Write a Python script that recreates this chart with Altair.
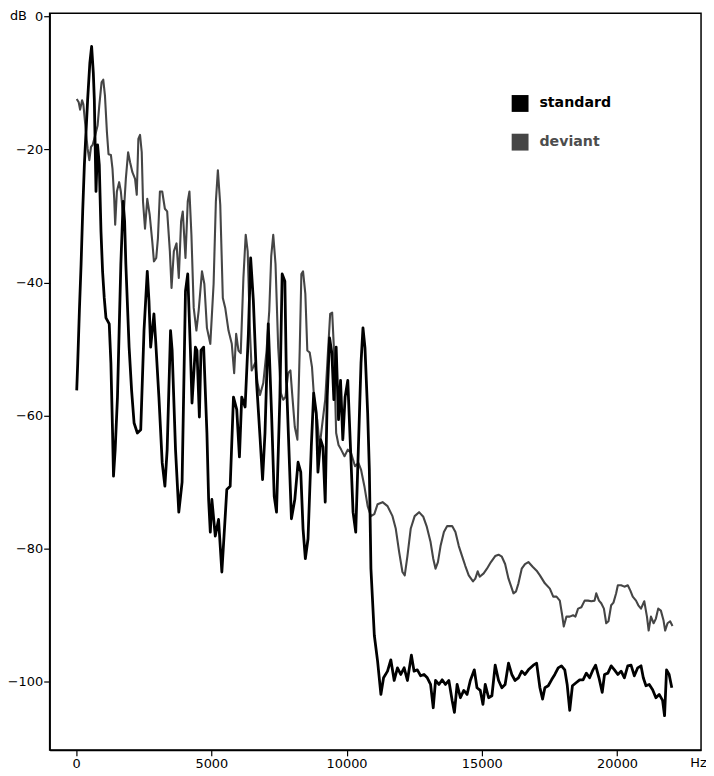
import altair as alt
import pandas as pd

# ---- data (frequency in Hz, level in dB) ----
std_hz = [22, 59, 121, 184, 243, 305, 426, 507, 573, 636,
          673, 735, 794, 856, 919, 978, 1040, 1103, 1224, 1286,
          1345, 1382, 1444, 1529, 1591, 1654, 1738, 1793, 1838, 1959,
          2051, 2143, 2264, 2389, 2510, 2631, 2694, 2756, 2877, 2940,
          3061, 3183, 3282, 3366, 3491, 3550, 3675, 3796, 3918, 4043,
          4127, 4226, 4285, 4410, 4469, 4557, 4616, 4715, 4836, 4899,
          4961, 5020, 5145, 5266, 5388, 5513, 5571, 5696, 5818, 5939,
          6038, 6123, 6248, 6369, 6453, 6553, 6674, 6799, 6894, 6983,
          7104, 7225, 7324, 7409, 7534, 7618, 7718, 7776, 7865, 7960,
          8085, 8206, 8306, 8390, 8475, 8574, 8695, 8783, 8879, 8941,
          9040, 9125, 9210, 9283, 9371, 9456, 9529, 9614, 9702, 9776,
          9860, 9945, 10044, 10143, 10239, 10338, 10437, 10533, 10606, 10680,
          10779, 10841, 10900, 11025, 11146, 11268, 11367, 11514, 11635, 11760,
          11881, 12003, 12128, 12249, 12396, 12495, 12616, 12738, 12863, 12984,
          13105, 13204, 13289, 13414, 13535, 13656, 13781, 13903, 13987, 14086,
          14208, 14333, 14454, 14575, 14722, 14821, 14943, 15042, 15126, 15251,
          15373, 15494, 15619, 15740, 15861, 15986, 16108, 16229, 16354, 16475,
          16596, 16721, 16905, 17026, 17148, 17247, 17331, 17456, 17578, 17699,
          17824, 17945, 18066, 18155, 18250, 18349, 18496, 18618, 18743, 18864,
          18985, 19110, 19206, 19331, 19452, 19536, 19661, 19783, 19904, 20029,
          20150, 20271, 20396, 20517, 20639, 20764, 20885, 20970, 21069, 21190,
          21315, 21436, 21558, 21683, 21756, 21830, 21925, 22024]
std_db = [-56.2, -52.1, -44.2, -37.2, -29.3, -22.3, -12.5, -7.0, -4.5, -8.5,
          -12.5, -26.3, -19.3, -22.3, -32.3, -38.3, -42.3, -45.3, -46.2, -52.1,
          -62.1, -69.1, -65.1, -57.2, -47.2, -37.2, -27.8, -30.8, -37.2, -49.7,
          -56.2, -61.1, -62.6, -62.1, -47.2, -38.3, -42.8, -49.7, -44.7, -48.7,
          -57.2, -67.1, -70.6, -65.1, -47.2, -50.2, -65.1, -74.5, -70.0, -41.3,
          -38.7, -50.2, -58.1, -49.7, -50.2, -60.2, -50.2, -49.7, -62.6, -72.6,
          -77.5, -72.6, -78.1, -75.6, -83.5, -75.1, -71.1, -70.6, -57.2, -59.1,
          -66.2, -57.2, -58.7, -47.7, -36.3, -42.7, -55.1, -63.2, -69.6, -62.6,
          -46.2, -59.6, -72.1, -74.5, -57.2, -38.7, -39.8, -54.7, -64.7, -75.5,
          -72.6, -67.0, -68.5, -77.0, -81.5, -78.5, -64.7, -56.6, -59.6, -68.5,
          -63.6, -64.7, -73.0, -57.2, -48.3, -50.6, -57.6, -49.7, -60.6, -54.7,
          -63.6, -57.2, -54.7, -64.7, -74.5, -77.5, -64.7, -52.1, -46.8, -49.8,
          -59.6, -68.1, -83.0, -93.0, -96.9, -101.9, -99.4, -98.4, -96.7, -99.8,
          -97.9, -98.9, -97.9, -99.8, -96.0, -98.4, -98.2, -99.1, -98.9, -99.4,
          -100.4, -103.9, -99.8, -100.4, -99.7, -100.4, -99.8, -102.8, -104.6, -100.4,
          -102.4, -101.3, -101.9, -99.8, -98.2, -100.9, -101.3, -103.4, -100.4, -102.4,
          -102.1, -97.5, -99.8, -100.9, -100.4, -97.2, -98.9, -99.8, -99.4, -98.4,
          -98.9, -98.2, -97.5, -97.2, -100.9, -102.6, -100.9, -100.6, -99.7, -98.9,
          -97.9, -97.6, -98.2, -100.4, -104.3, -100.6, -100.1, -99.7, -99.7, -98.7,
          -99.4, -98.2, -97.5, -99.4, -101.6, -98.9, -98.7, -97.6, -98.2, -98.9,
          -98.4, -99.4, -97.6, -97.5, -99.1, -97.9, -97.6, -99.4, -100.6, -100.4,
          -101.2, -102.4, -101.9, -102.8, -105.1, -98.2, -98.9, -100.9]

dev_hz = [22, 96, 147, 221, 268, 342, 426, 489, 551, 610,
          709, 794, 856, 941, 1003, 1066, 1139, 1198, 1286, 1345,
          1408, 1444, 1507, 1591, 1654, 1749, 1838, 1922, 1995, 2080,
          2179, 2242, 2301, 2363, 2426, 2473, 2547, 2631, 2720, 2815,
          2877, 2962, 3025, 3098, 3183, 3282, 3366, 3466, 3528, 3613,
          3712, 3796, 3881, 3943, 4043, 4127, 4190, 4263, 4348, 4447,
          4531, 4653, 4741, 4836, 4961, 5083, 5167, 5241, 5329, 5424,
          5513, 5634, 5755, 5843, 5917, 6001, 6086, 6185, 6270, 6343,
          6431, 6490, 6615, 6711, 6799, 6920, 7041, 7141, 7214, 7288,
          7372, 7471, 7571, 7655, 7740, 7839, 7923, 7986, 8085, 8181,
          8269, 8328, 8390, 8475, 8548, 8636, 8721, 8820, 8916, 9004,
          9088, 9210, 9309, 9393, 9467, 9529, 9614, 9702, 9798, 9923,
          10044, 10165, 10312, 10437, 10533, 10658, 10779, 10900, 11025, 11146,
          11330, 11514, 11697, 11819, 11944, 12065, 12150, 12249, 12370, 12517,
          12679, 12837, 12958, 13105, 13204, 13289, 13377, 13473, 13598, 13719,
          13903, 14024, 14149, 14270, 14391, 14516, 14674, 14759, 14847, 14921,
          15068, 15189, 15336, 15494, 15619, 15740, 15861, 15986, 16071, 16170,
          16266, 16354, 16475, 16596, 16721, 16879, 17026, 17148, 17331, 17515,
          17640, 17761, 17883, 17971, 18030, 18129, 18250, 18375, 18460, 18559,
          18680, 18801, 18926, 19048, 19169, 19231, 19331, 19415, 19514, 19599,
          19683, 19782, 19867, 19966, 20029, 20150, 20271, 20396, 20492, 20580,
          20701, 20786, 20885, 21006, 21105, 21168, 21253, 21352, 21436, 21521,
          21620, 21719, 21778, 21866, 21962, 22050]
dev_db = [-12.4, -12.9, -14.0, -12.6, -13.2, -16.4, -19.9, -21.6, -19.6, -19.3,
          -17.8, -16.4, -13.4, -9.9, -9.5, -11.9, -17.4, -20.7, -20.8, -22.9,
          -27.4, -31.3, -26.3, -24.9, -26.3, -30.4, -24.4, -20.4, -21.9, -23.4,
          -24.4, -26.8, -18.4, -17.8, -20.4, -27.8, -31.9, -27.4, -29.8, -33.8,
          -36.8, -36.3, -33.3, -26.3, -26.3, -28.9, -29.3, -35.3, -40.8, -35.3,
          -34.1, -39.3, -30.8, -29.3, -36.3, -27.8, -26.3, -32.8, -43.8, -47.2,
          -44.2, -38.3, -40.2, -46.8, -49.2, -40.2, -27.8, -23.1, -28.3, -42.3,
          -43.8, -47.2, -49.2, -53.6, -47.7, -50.2, -50.6, -39.3, -32.8, -35.3,
          -47.7, -53.2, -52.1, -55.1, -56.9, -55.1, -50.2, -44.2, -36.0, -32.8,
          -37.2, -49.7, -56.6, -57.6, -57.2, -53.6, -53.2, -56.6, -61.7, -63.6,
          -49.7, -38.7, -38.3, -41.7, -50.2, -50.5, -52.7, -58.7, -60.6, -64.7,
          -61.7, -57.6, -50.6, -44.7, -44.5, -49.7, -62.6, -64.4, -65.1, -66.1,
          -65.1, -65.6, -67.6, -67.1, -68.1, -70.6, -73.6, -75.1, -74.8, -73.3,
          -73.0, -73.6, -75.1, -77.0, -80.5, -83.5, -84.0, -81.1, -77.0, -75.1,
          -74.5, -75.2, -76.6, -79.0, -81.5, -83.0, -82.0, -79.6, -77.5, -76.6,
          -76.6, -77.5, -79.6, -81.1, -82.6, -84.0, -84.9, -84.5, -83.4, -84.2,
          -83.7, -83.0, -82.0, -81.1, -80.9, -81.2, -82.3, -84.5, -85.5, -86.7,
          -86.4, -85.2, -83.0, -82.3, -82.0, -82.7, -83.3, -84.0, -85.2, -86.0,
          -87.2, -87.2, -87.8, -90.0, -91.7, -90.2, -90.2, -90.0, -90.2, -89.0,
          -88.8, -87.8, -87.8, -87.9, -87.8, -86.7, -87.8, -88.2, -89.0, -91.2,
          -90.9, -88.5, -88.1, -86.7, -85.5, -85.5, -85.7, -85.5, -86.3, -87.2,
          -87.8, -88.5, -89.0, -87.9, -90.2, -92.3, -90.2, -91.2, -90.5, -89.0,
          -89.3, -90.8, -92.3, -91.2, -90.9, -91.6]

series_names = ["standard", "deviant"]
series_colors = ["#000000", "#454545"]
x_ticks = [0, 5000, 10000, 15000, 20000]
y_ticks = [-100, -80, -60, -40, -20, 0]

std_df = pd.DataFrame({"hz": std_hz, "db": std_db, "series": "standard"})
dev_df = pd.DataFrame({"hz": dev_hz, "db": dev_db, "series": "deviant"})

FONT = "DejaVu Sans"

x_enc = alt.X(
    "hz:Q",
    scale=alt.Scale(domain=[-979, 23105], nice=False, zero=False),
    axis=alt.Axis(values=x_ticks, format="d", title="Hz", titleAngle=0,
                  titleX=654, titleY=12.5, titleAlign="center",
                  titleBaseline="middle", labelPadding=2),
)
y_enc = alt.Y(
    "db:Q",
    scale=alt.Scale(domain=[-110.24, 0.49], nice=False, zero=False),
    axis=alt.Axis(values=y_ticks, format="d", title="dB", titleAngle=0,
                  titleX=-32, titleY=2.5, titleAlign="center",
                  titleBaseline="middle", labelPadding=1),
)
color_enc = alt.Color(
    "series:N",
    scale=alt.Scale(domain=series_names, range=series_colors),
    legend=alt.Legend(
        orient="none", legendX=466, legendY=82.5, title=None,
        symbolType="square", symbolSize=72.25, symbolStrokeWidth=8.5,
        labelFont=FONT, labelFontSize=14.3, labelFontWeight="bold",
        labelColor={"expr": "datum.value == 'deviant' ? '#4d4d4d' : '#000000'"},
        labelOffset=11, rowPadding=-4, padding=0,
    ),
)

dev_line = alt.Chart(dev_df).mark_line(strokeWidth=2.1, strokeJoin="round").encode(
    x=x_enc, y=y_enc, color=color_enc)
std_line = alt.Chart(std_df).mark_line(strokeWidth=2.8, strokeJoin="round").encode(
    x=x_enc, y=y_enc, color=color_enc)

chart = alt.layer(dev_line, std_line).properties(
    width=657, height=743,
    autosize=alt.AutoSizeParams(type="none"),
    padding={"left": 42, "top": 2, "right": 5, "bottom": 22},
).configure_view(
    stroke="black", strokeWidth=1.5
).configure_axis(
    grid=False, domainColor="black", domainWidth=1.5,
    tickColor="black", tickWidth=1.2, tickSize=6,
    labelFont=FONT, labelFontSize=13, labelColor="black",
    titleFont=FONT, titleFontSize=13, titleFontWeight="normal", titleColor="black",
)

chart.save("out.html", embed_options={"renderer": "svg", "actions": False})
